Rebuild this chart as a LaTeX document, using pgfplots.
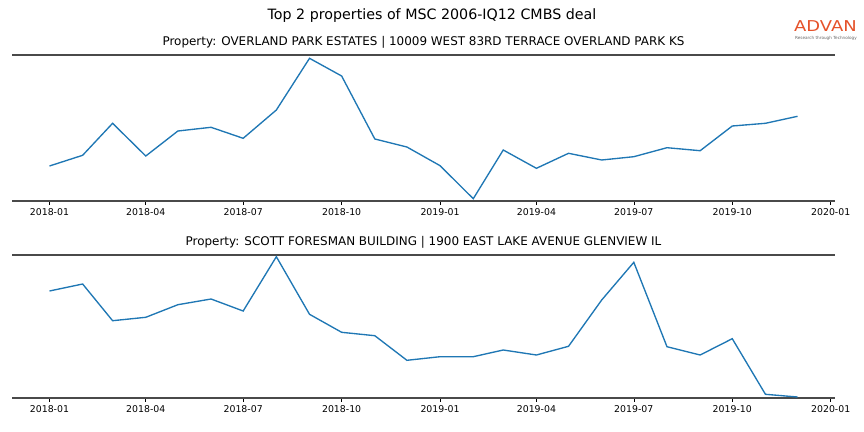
\documentclass[border=0pt]{standalone}
\usepackage{fontspec}
\setmainfont{DejaVu Sans}
\usepackage{pgfplots}
\pgfplotsset{compat=1.18}
\usepackage{pgfplotstable}

\definecolor{mplblue}{HTML}{1F77B4}
\definecolor{spine}{HTML}{4A4A4A}
\definecolor{advan}{HTML}{E5522A}

% day offsets from 2018-01-01, one row per month
\pgfplotstableread{
day top bottom
0   35.0  107.0
31  45.7  114.0
59  77.7  77.3
90  45.0  80.7
120 70.0  93.3
151 73.7  99.0
181 62.7  87.0
212 91.0  141.3
243 142.7 83.7
273 125.0 65.7
304 62.0  62.3
334 54.0  37.7
365 35.3  41.3
396 2.3   41.3
424 51.0  48.0
455 32.7  43.0
485 47.7  51.7
516 41.0  98.0
546 44.3  135.7
577 53.3  51.3
608 50.3  43.0
638 75.0  59.3
669 77.7  3.7
699 84.7  1.0
}\props

\pgfplotsset{
  panel/.style={
    scale only axis,
    anchor=south west,
    width=823bp,
    xmin=-35, xmax=734,
    ymin=0,
    separate axis lines,
    x axis line style={draw=spine, line width=1.4bp},
    y axis line style={draw=none},
    ytick=\empty,
    xtick={0,90,181,273,365,455,546,638,730},
    xticklabels={2018-01,2018-04,2018-07,2018-10,2019-01,2019-04,2019-07,2019-10,2020-01},
    xtick pos=bottom,
    tick align=outside,
    major tick length=3.5bp,
    every tick/.style={black, line width=0.6bp},
    tick label style={font=\fontsize{9.4}{10}\selectfont},
    xticklabel style={yshift=-1bp},
    /pgf/number format/assume math mode=true,
    title style={font=\fontsize{12}{14}\selectfont, yshift=-3bp},
    clip=false,
  },
}

\begin{document}
\begin{tikzpicture}
\path[use as bounding box] (0bp,0bp) rectangle (864bp,-432bp);

\node[font=\fontsize{14.3}{16}\selectfont] at (432bp,-16bp) {Top 2 properties of MSC 2006-IQ12 CMBS deal};
\node[font=\fontsize{15}{16}\selectfont, text=advan, anchor=base east, inner sep=0pt, xscale=1.2] at (857bp,-31.7bp) {ADVAN};
\node[font=\fontsize{4.2}{5}\selectfont, text=black!60, anchor=east, inner sep=0pt] at (857bp,-38.5bp) {Research through Technology};

\begin{axis}[panel, at={(12bp,-201bp)}, height=146bp, ymax=146,
  title={Property: OVERLAND PARK ESTATES | 10009 WEST 83RD TERRACE OVERLAND PARK KS}]
  \addplot[mplblue, line width=1.35bp] table[x=day, y=top] {\props};
\end{axis}

\begin{axis}[panel, at={(12bp,-398bp)}, height=143bp, ymax=143,
  title={Property: SCOTT FORESMAN BUILDING | 1900 EAST LAKE AVENUE GLENVIEW IL}]
  \addplot[mplblue, line width=1.35bp] table[x=day, y=bottom] {\props};
\end{axis}
\end{tikzpicture}
\end{document}
